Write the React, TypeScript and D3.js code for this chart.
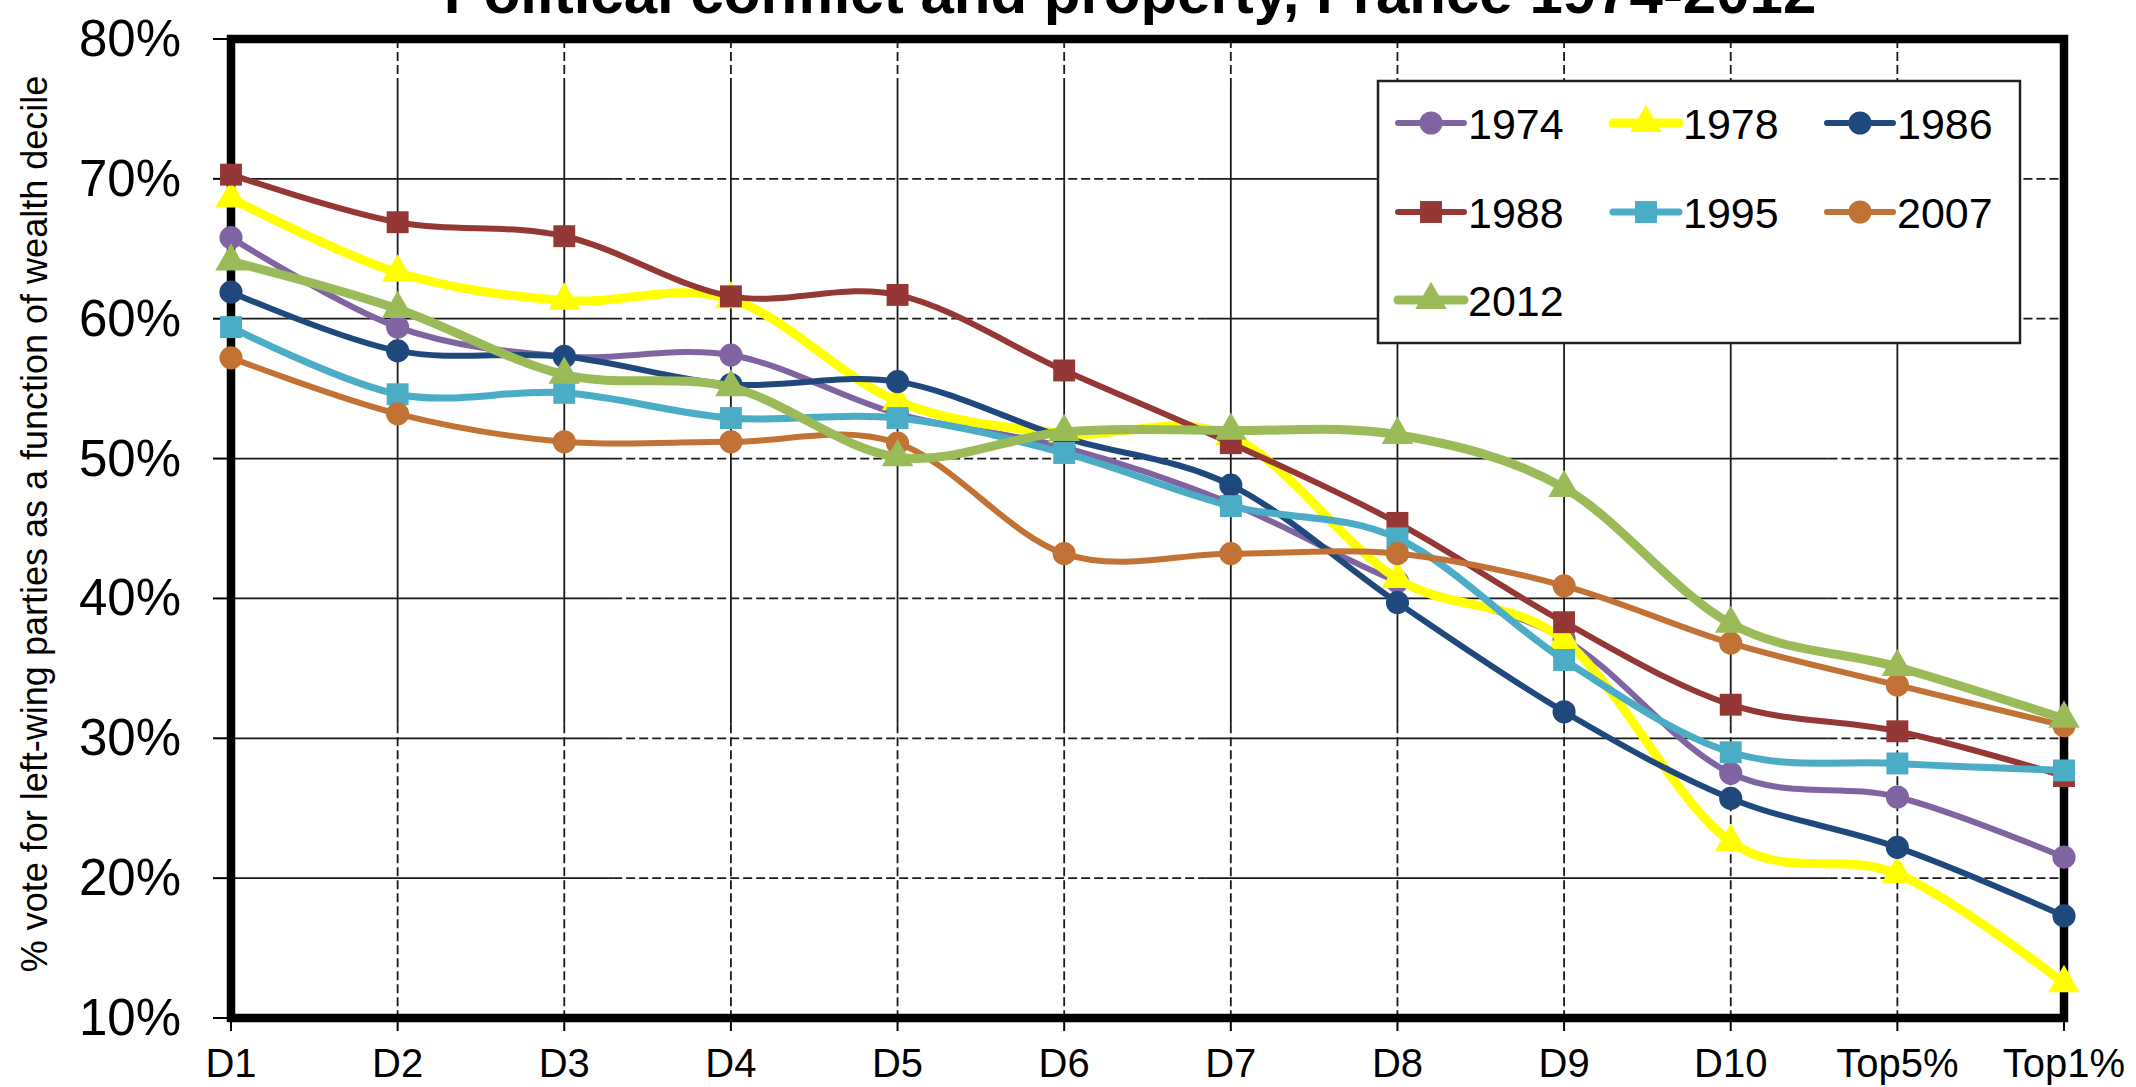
import React from "react";
import * as d3 from "d3";

// wealth groups on the x axis
const categories = ["D1", "D2", "D3", "D4", "D5", "D6", "D7", "D8", "D9", "D10", "Top5%", "Top1%"];
const yTicks = [10, 20, 30, 40, 50, 60, 70, 80];

// % vote for left-wing parties
const v1974 = [65.8, 59.4, 57.3, 57.4, 53.2, 50.8, 46.8, 41.2, 37.1, 27.5, 25.8, 21.5];
const v1978 = [68.6, 63.3, 61.3, 61.4, 54.1, 51.8, 51.6, 41.4, 37.0, 22.6, 20.3, 12.5];
const v1986 = [61.9, 57.7, 57.3, 55.3, 55.5, 51.5, 48.1, 39.7, 31.9, 25.7, 22.2, 17.3];
const v1988 = [70.3, 66.9, 65.9, 61.6, 61.7, 56.3, 51.1, 45.4, 38.3, 32.4, 30.5, 27.3];
const v1995 = [59.4, 54.6, 54.7, 52.9, 52.9, 50.4, 46.6, 44.3, 35.6, 29.0, 28.2, 27.7];
const v2007 = [57.2, 53.2, 51.2, 51.2, 51.1, 43.2, 43.2, 43.2, 40.9, 36.8, 33.8, 30.9];
const v2012 = [64.1, 60.7, 56.0, 55.1, 50.1, 51.9, 52.0, 51.7, 47.9, 38.2, 35.1, 31.4];

type Marker = "circle" | "square" | "triangle";

interface Series {
  name: string;
  values: number[];
  color: string;
  marker: Marker;
  lineWidth: number;
}

const series: Series[] = [
  { name: "1974", values: v1974, color: "#8064A2", marker: "circle", lineWidth: 6 },
  { name: "1978", values: v1978, color: "#FFFF00", marker: "triangle", lineWidth: 9 },
  { name: "1986", values: v1986, color: "#1F497D", marker: "circle", lineWidth: 6 },
  { name: "1988", values: v1988, color: "#953735", marker: "square", lineWidth: 6 },
  { name: "1995", values: v1995, color: "#4BACC6", marker: "square", lineWidth: 7 },
  { name: "2007", values: v2007, color: "#C27234", marker: "circle", lineWidth: 6 },
  { name: "2012", values: v2012, color: "#9BBB59", marker: "triangle", lineWidth: 9 },
];

const WIDTH = 2136;
const HEIGHT = 1087;
const FONT = "'Liberation Sans', Arial, sans-serif";

const symbolPath = (m: Marker) => {
  const type = m === "circle" ? d3.symbolCircle : m === "square" ? d3.symbolSquare : d3.symbolTriangle;
  const size = m === "circle" ? 420 : m === "square" ? 480 : 430;
  return d3.symbol().type(type).size(size)()!;
};

// the source image has gridlines that switch between solid and dashed along their length
const hSegments: [number, number, boolean][] = [
  [0, 0.2085, false],
  [0.2085, 0.5315, true],
  [0.5315, 0.8715, false],
  [0.8715, 1, true],
];
const vSegments: [number, number, boolean][] = [
  [0, 0.049, true],
  [0.049, 0.7, false],
  [0.7, 1, true],
];

const App: React.FC = () => {
  const left = 231;
  const right = 2064;
  const top = 39;
  const bottom = 1018;

  const x = d3.scalePoint<string>().domain(categories).range([left, right]);
  const y = d3.scaleLinear().domain([10, 80]).range([bottom, top]);

  const line = d3
    .line<number>()
    .x((_, i) => x(categories[i])!)
    .y((d) => y(d))
    .curve(d3.curveCardinal.tension(0));

  const plotW = right - left;
  const plotH = bottom - top;

  // legend layout
  const legend = { x: 1378, y: 81, w: 642, h: 262 };
  const legendCols = [1398, 1613, 1827];
  const legendRows = [123, 212, 300];

  return (
    <svg
      width={WIDTH}
      height={HEIGHT}
      style={{ position: "absolute", left: 0, top: 0, background: "#fff" }}
      fontFamily={FONT}
    >
      <rect width={WIDTH} height={HEIGHT} fill="#fff" />

      {/* title, cut at the top edge like the source */}
      <text x={1130} y={13} textAnchor="middle" fontSize={60} fontWeight="bold" fill="#000">
        Political conflict and property, France 1974-2012
      </text>

      {/* horizontal gridlines */}
      {yTicks
        .filter((t) => t > 10 && t < 80)
        .map((t) =>
          hSegments.map(([a, b, dashed], k) => (
            <line
              key={`h${t}-${k}`}
              x1={left + a * plotW}
              x2={left + b * plotW}
              y1={y(t)}
              y2={y(t)}
              stroke="#1a1a1a"
              strokeWidth={1.8}
              strokeDasharray={dashed ? "9,4" : undefined}
            />
          ))
        )}

      {/* vertical gridlines */}
      {categories.slice(1, -1).map((c) =>
        vSegments.map(([a, b, dashed], k) => (
          <line
            key={`v${c}-${k}`}
            x1={x(c)}
            x2={x(c)}
            y1={top + a * plotH}
            y2={top + b * plotH}
            stroke="#1a1a1a"
            strokeWidth={1.8}
            strokeDasharray={dashed ? "9,4" : undefined}
          />
        ))
      )}

      {/* tick marks */}
      {yTicks.map((t) => (
        <line key={`yt${t}`} x1={left - 18} x2={left} y1={y(t)} y2={y(t)} stroke="#000" strokeWidth={2} />
      ))}
      {categories.map((c) => (
        <line key={`xt${c}`} x1={x(c)} x2={x(c)} y1={bottom} y2={bottom + 13} stroke="#000" strokeWidth={2} />
      ))}

      {/* frame */}
      <rect x={left} y={top} width={plotW} height={plotH} fill="none" stroke="#000" strokeWidth={8.5} />

      {/* tick labels */}
      {yTicks.map((t) => (
        <text key={`yl${t}`} x={181} y={y(t) + 17} textAnchor="end" fontSize={51} fill="#000">
          {t}%
        </text>
      ))}
      {categories.map((c) => (
        <text key={`xl${c}`} x={x(c)} y={1077} textAnchor="middle" fontSize={40} fill="#000">
          {c}
        </text>
      ))}

      <text
        transform="translate(47,524) rotate(-90)"
        textAnchor="middle"
        fontSize={36}
        fill="#000"
      >
        % vote for left-wing parties as a function of wealth decile
      </text>

      {/* series: each line with its markers, later years on top */}
      {series.map((s) => (
        <g key={s.name}>
          <path
            d={line(s.values)!}
            fill="none"
            stroke={s.color}
            strokeWidth={s.lineWidth}
            strokeLinejoin="round"
            strokeLinecap="round"
          />
          {s.values.map((v, i) => (
            <path
              key={i}
              d={symbolPath(s.marker)}
              transform={`translate(${x(categories[i])},${y(v)})`}
              fill={s.color}
            />
          ))}
        </g>
      ))}

      {/* legend */}
      <g>
        <rect
          x={legend.x}
          y={legend.y}
          width={legend.w}
          height={legend.h}
          fill="#fff"
          stroke="#222"
          strokeWidth={2.5}
        />
        {series.map((s, i) => {
          const cx = legendCols[i % 3];
          const cy = legendRows[Math.floor(i / 3)];
          return (
            <g key={`lg${s.name}`}>
              <line
                x1={cx}
                x2={cx + 66}
                y1={cy}
                y2={cy}
                stroke={s.color}
                strokeWidth={s.lineWidth}
                strokeLinecap="round"
              />
              <path d={symbolPath(s.marker)} transform={`translate(${cx + 33},${cy})`} fill={s.color} />
              <text x={cx + 70} y={cy + 16} fontSize={43} fill="#000">
                {s.name}
              </text>
            </g>
          );
        })}
      </g>
    </svg>
  );
};

export default App;
